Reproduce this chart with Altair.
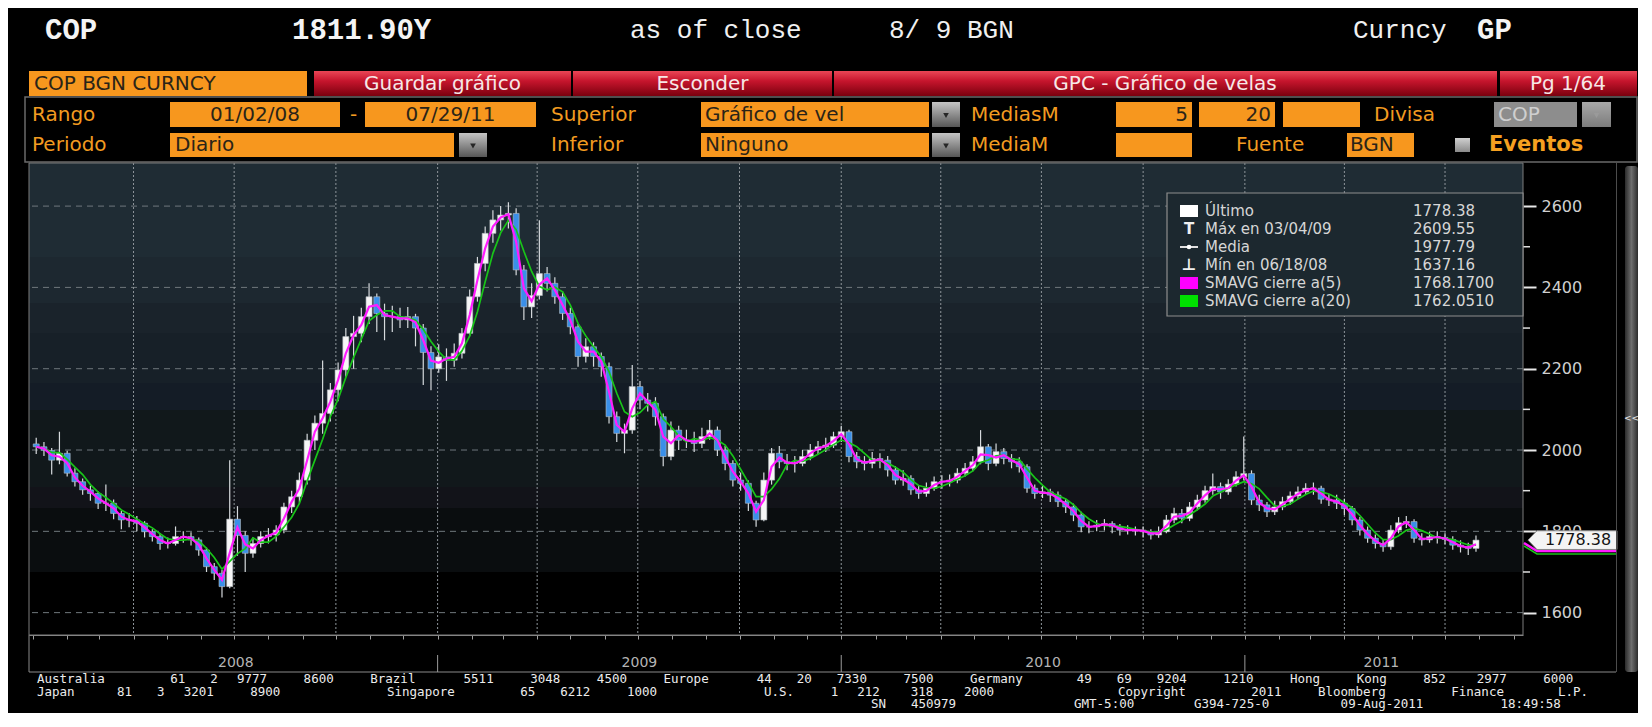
import altair as alt
import pandas as pd

# ---------------- weekly OHLC (USD/COP) ----------------
OPEN_2008 = [2015, 2008, 1999, 1975, 1992, 1943, 1922, 1902, 1893, 1869, 1869, 1844, 1828, 1828, 1820,
             1799, 1787, 1770, 1770, 1787, 1787, 1779, 1754, 1713, 1697, 1664, 1830, 1790, 1746, 1770,
             1787, 1791, 1803, 1860, 1885, 1926, 2024, 2066, 2090, 2148, 2197, 2279, 2287, 2328, 2377,
             2336, 2328, 2328, 2320, 2328, 2300, 2240]
CLOSE_2008 = [2008, 1999, 1975, 1992, 1943, 1922, 1902, 1893, 1869, 1869, 1844, 1828, 1828, 1820, 1799,
              1787, 1770, 1770, 1787, 1787, 1779, 1754, 1713, 1697, 1664, 1830, 1790, 1746, 1770, 1787,
              1791, 1803, 1860, 1885, 1926, 2024, 2066, 2090, 2148, 2197, 2279, 2287, 2328, 2377, 2336,
              2328, 2328, 2320, 2328, 2300, 2240, 2200]
HIGH_2008 = [2030, 2020, 2005, 2045, 1998, 1955, 1930, 1912, 1898, 1915, 1878, 1850, 1845, 1838, 1825,
             1805, 1795, 1785, 1812, 1800, 1798, 1785, 1760, 1722, 1705, 1975, 1862, 1800, 1785, 1800,
             1808, 1815, 1870, 1900, 1945, 2040, 2085, 2220, 2165, 2215, 2300, 2330, 2350, 2410, 2385,
             2360, 2355, 2350, 2352, 2335, 2310, 2255]
LOW_2008 = [1990, 1985, 1940, 1965, 1935, 1910, 1890, 1875, 1855, 1850, 1830, 1805, 1810, 1800, 1785,
            1775, 1755, 1758, 1765, 1772, 1765, 1740, 1700, 1680, 1637.16, 1660, 1740, 1700, 1735, 1760,
            1770, 1775, 1795, 1845, 1870, 1915, 2000, 2040, 2070, 2120, 2180, 2200, 2265, 2310, 2290,
            2270, 2290, 2300, 2300, 2255, 2160, 2147]

OPEN_2009 = [2200, 2229, 2221, 2238, 2287, 2377, 2459, 2533, 2566, 2578, 2582, 2443, 2352, 2380, 2434,
             2410, 2377, 2336, 2303, 2230, 2254, 2230, 2205, 2082, 2041, 2049, 2156, 2123, 2115, 2082,
             1984, 2049, 2024, 2024, 2016, 2033, 2049, 2000, 1967, 1926, 1918, 1869, 1828, 1926, 1992,
             1971, 1967, 1967, 1984, 2000, 2008, 2012]
CLOSE_2009 = [2229, 2221, 2238, 2287, 2377, 2459, 2533, 2566, 2578, 2582, 2443, 2352, 2380, 2434, 2410,
              2377, 2336, 2303, 2230, 2254, 2230, 2205, 2082, 2041, 2049, 2156, 2123, 2115, 2082, 1984,
              2049, 2024, 2024, 2016, 2033, 2049, 2000, 1967, 1926, 1918, 1869, 1828, 1926, 1992, 1971,
              1967, 1967, 1984, 2000, 2008, 2012, 2033]
HIGH_2009 = [2260, 2250, 2262, 2300, 2395, 2475, 2550, 2590, 2600, 2609.55, 2595, 2455, 2410, 2565, 2450,
             2425, 2390, 2350, 2310, 2275, 2265, 2240, 2215, 2095, 2065, 2209, 2170, 2140, 2130, 2090,
             2070, 2060, 2050, 2045, 2055, 2074, 2058, 2010, 1975, 1945, 1925, 1875, 1945, 2005, 2010,
             1990, 1985, 2000, 2015, 2022, 2030, 2045]
LOW_2009 = [2190, 2170, 2205, 2225, 2280, 2365, 2440, 2510, 2540, 2545, 2430, 2320, 2325, 2370, 2390,
            2360, 2320, 2285, 2205, 2215, 2205, 2180, 2065, 2020, 1992, 2040, 2100, 2095, 2060, 1960,
            1975, 2000, 2005, 1995, 2005, 2025, 1985, 1950, 1910, 1900, 1850, 1811, 1825, 1915, 1955,
            1950, 1945, 1960, 1975, 1990, 1995, 2005]

OPEN_2010 = [2033, 2045, 1984, 1971, 1967, 1979, 1975, 1951, 1926, 1930, 1902, 1893, 1906, 1922, 1922,
             1926, 1943, 1955, 1971, 2008, 1967, 1996, 1979, 1971, 1959, 1906, 1893, 1897, 1889, 1873,
             1860, 1840, 1811, 1811, 1815, 1819, 1811, 1803, 1803, 1803, 1799, 1791, 1799, 1828, 1844,
             1832, 1860, 1877, 1900, 1910, 1897, 1916, 1934]
CLOSE_2010 = [2045, 1984, 1971, 1967, 1979, 1975, 1951, 1926, 1930, 1902, 1893, 1906, 1922, 1922, 1926,
              1943, 1955, 1971, 2008, 1967, 1996, 1979, 1971, 1959, 1906, 1893, 1897, 1889, 1873, 1860,
              1840, 1811, 1811, 1815, 1819, 1811, 1803, 1803, 1803, 1799, 1791, 1799, 1828, 1844, 1832,
              1860, 1877, 1900, 1910, 1897, 1916, 1934, 1942]
HIGH_2010 = [2060, 2050, 1995, 1985, 1995, 1992, 1985, 1960, 1950, 1938, 1912, 1920, 1935, 1938, 1940,
             1955, 1968, 1985, 2049, 2015, 2016, 2005, 1990, 1982, 1965, 1915, 1912, 1905, 1898, 1880,
             1868, 1848, 1825, 1828, 1830, 1825, 1818, 1815, 1812, 1812, 1805, 1812, 1840, 1858, 1855,
             1872, 1890, 1912, 1942, 1920, 1928, 1948, 2033]
LOW_2010 = [2020, 1970, 1955, 1950, 1955, 1955, 1935, 1915, 1912, 1890, 1880, 1885, 1900, 1905, 1910,
            1918, 1935, 1948, 1965, 1950, 1960, 1965, 1955, 1945, 1895, 1880, 1882, 1872, 1860, 1845,
            1825, 1798, 1795, 1800, 1802, 1795, 1790, 1792, 1790, 1785, 1780, 1784, 1795, 1820, 1820,
            1825, 1852, 1870, 1890, 1880, 1890, 1910, 1925]

OPEN_2011 = [1942, 1877, 1865, 1848, 1860, 1873, 1887, 1897, 1906, 1906, 1879, 1877, 1869, 1856, 1828,
             1803, 1783, 1770, 1762, 1803, 1821, 1824, 1783, 1779, 1787, 1785, 1780, 1766, 1762, 1758]
CLOSE_2011 = [1877, 1865, 1848, 1860, 1873, 1887, 1897, 1906, 1906, 1879, 1877, 1869, 1856, 1828, 1803,
              1783, 1770, 1762, 1803, 1821, 1824, 1783, 1779, 1787, 1785, 1780, 1766, 1762, 1758, 1778.38]
HIGH_2011 = [1950, 1890, 1872, 1875, 1885, 1898, 1910, 1918, 1920, 1912, 1892, 1890, 1880, 1862, 1835,
             1812, 1792, 1780, 1815, 1835, 1838, 1830, 1795, 1798, 1800, 1795, 1788, 1778, 1772, 1790]
LOW_2011 = [1865, 1850, 1835, 1840, 1852, 1865, 1880, 1890, 1890, 1868, 1862, 1855, 1840, 1815, 1790,
            1772, 1758, 1750, 1755, 1795, 1808, 1772, 1765, 1772, 1770, 1768, 1755, 1748, 1742, 1750]

LAST_PRICE = 1778.38
Y_TICKS = [1600, 1800, 2000, 2200, 2400, 2600]
Y_MINOR = [1700, 1900, 2100, 2300, 2500]
YEARS = [2008, 2009, 2010, 2011]
LEGEND_LABELS = ["Último", "Máx en 03/04/09", "Media", "Mín en 06/18/08",
                 "SMAVG cierre a(5)", "SMAVG cierre a(20)"]
LEGEND_VALUES = ["1778.38", "2609.55", "1977.79", "1637.16", "1768.1700", "1762.0510"]

OPEN = OPEN_2008 + OPEN_2009 + OPEN_2010 + OPEN_2011
CLOSE = CLOSE_2008 + CLOSE_2009 + CLOSE_2010 + CLOSE_2011
HIGH = HIGH_2008 + HIGH_2009 + HIGH_2010 + HIGH_2011
LOW = LOW_2008 + LOW_2009 + LOW_2010 + LOW_2011
dates = pd.date_range("2008-01-04", periods=len(CLOSE), freq="W-FRI")
prices = pd.DataFrame({"date": dates, "open": OPEN, "high": HIGH, "low": LOW, "close": CLOSE})

# ---------------- layout ----------------
W, H = 1494, 472
OX, OY = 29, 163          # page position of the plot's top-left corner
D_START = pd.Timestamp("2008-01-02")
D_END = pd.Timestamp("2011-09-05")


def px(x):
    return x - OX


def py(y):
    return y - OY


XSCALE = alt.Scale(domain=[alt.DateTime(year=2008, month=1, date=2), alt.DateTime(year=2011, month=9, date=5)],
                   nice=False)
XAXIS = alt.Axis(title=None, labels=False, grid=False, domain=True, domainColor="#8c8c8c",
                 tickColor="#a0a0a0", tickSize=4,
                 tickCount=alt.TimeIntervalStep(interval="month", step=1))
YSCALE = alt.Scale(domain=[1545, 2706], nice=False, zero=False)
YAXIS = alt.Axis(title=None, orient="right", values=Y_TICKS, format="d", grid=False, domain=False,
                 tickSize=13, tickWidth=2, tickColor="#e8e8e8", labelPadding=5,
                 labelColor="#d0d0d0", labelFont="DejaVu Sans", labelFontSize=16)


def Xd(f):
    return alt.X(f, type="temporal", scale=XSCALE, axis=XAXIS, title=None)


def Yq(f):
    return alt.Y(f, type="quantitative", scale=YSCALE, axis=YAXIS, title=None)


def rects(rows, **kw):
    d = pd.DataFrame([{"x1": px(a), "y1": py(b), "x2": px(c), "y2": py(e)} for a, b, c, e in rows])
    return alt.Chart(d).mark_rect(**kw).encode(
        x=alt.X("x1:Q", scale=None, axis=None), x2="x2:Q",
        y=alt.Y("y1:Q", scale=None, axis=None), y2="y2:Q")


def fill_rects(rows, **kw):
    d = pd.DataFrame([{"x1": px(a), "y1": py(b), "x2": px(c), "y2": py(e), "c": col}
                      for a, b, c, e, col in rows])
    return alt.Chart(d).mark_rect(**kw).encode(
        x=alt.X("x1:Q", scale=None, axis=None), x2="x2:Q",
        y=alt.Y("y1:Q", scale=None, axis=None), y2="y2:Q",
        fill=alt.Fill("c:N", scale=None))


def texts(rows, color, size, font="DejaVu Sans", weight="normal", align="left"):
    d = pd.DataFrame([{"t": t, "x": px(a), "y": py(b)} for t, a, b in rows])
    return alt.Chart(d).mark_text(color=color, fontSize=size, font=font, fontWeight=weight,
                                  align=align, baseline="middle").encode(
        x=alt.X("x:Q", scale=None, axis=None), y=alt.Y("y:Q", scale=None, axis=None), text="t:N")


def points(rows, **kw):
    d = pd.DataFrame([{"x": px(a), "y": py(b)} for a, b in rows])
    return alt.Chart(d).mark_point(**kw).encode(
        x=alt.X("x:Q", scale=None, axis=None), y=alt.Y("y:Q", scale=None, axis=None))


def polyline(rows, **kw):
    d = pd.DataFrame([{"i": i, "x": px(a), "y": py(b)} for i, (a, b) in enumerate(rows)])
    return alt.Chart(d).mark_line(**kw).encode(
        x=alt.X("x:Q", scale=None, axis=None), y=alt.Y("y:Q", scale=None, axis=None), order="i:Q")


def grad(stops, vertical=True):
    return alt.LinearGradient(gradient="linear", x1=0, y1=0, x2=0 if vertical else 1, y2=1 if vertical else 0,
                              stops=[alt.GradientStop(color=c, offset=o) for o, c in stops])


RED = grad([(0, "#ea4656"), (0.4, "#c6152d"), (1, "#7a000e")])
GRAY = grad([(0, "#c4c4c4"), (1, "#575757")])
GRAY_FADED = grad([(0, "#a8a8a8"), (1, "#7c7c7c")])
SCROLL = grad([(0, "#2c2c2c"), (0.5, "#6e6e6e"), (1, "#2c2c2c")], vertical=False)

ORANGE = "#f7971e"
ORANGE_TXT = "#f29b20"
BOX_TXT = "#2a2418"
L = []

# ---------------- plot background bands ----------------
BANDS = [(163, 257, "#1f2c34"), (257, 303, "#1d2830"), (303, 333, "#1a232b"), (333, 383, "#172028"),
         (383, 410, "#141c26"), (410, 487, "#11181b"), (487, 508, "#121319"), (508, 572, "#0a0d0f"),
         (572, 635, "#000000")]
L.append(fill_rects([(OX, a, OX + W, b, c) for a, b, c in BANDS]))

# ---------------- grid ----------------
L.append(alt.Chart(pd.DataFrame({"v": Y_TICKS})).mark_rule(color="#6f777c", strokeDash=[6, 5], strokeWidth=1)
         .encode(y=Yq("v")))
quarters = pd.DataFrame({"d": pd.date_range("2008-04-01", "2011-07-01", freq="QS")})
L.append(alt.Chart(quarters).mark_rule(color="#8e959a", strokeDash=[2, 2], strokeWidth=1)
         .encode(x=Xd("d")))

# ---------------- candles ----------------
L.append(alt.Chart(prices).mark_rule(color="#d6dadd", strokeWidth=1.2)
         .encode(x=Xd("date"), y=Yq("low"), y2="high:Q"))
L.append(alt.Chart(prices).mark_bar(size=6, stroke="#b9c0c5", strokeWidth=0.6)
         .encode(x=Xd("date"), y=Yq("open"), y2="close:Q",
                 color=alt.when("datum.close < datum.open").then(alt.value("#3a8fe8"))
                 .otherwise(alt.value("#f6f6f6"))))

# ---------------- moving averages ----------------
L.append(alt.Chart(prices).transform_window(sma20="mean(close)", frame=[-3, 0], sort=[alt.SortField("date")])
         .mark_line(color="#19c419", strokeWidth=1.7).encode(x=Xd("date"), y=Yq("sma20")))
L.append(alt.Chart(prices).transform_window(sma5="mean(close)", frame=[-1, 0], sort=[alt.SortField("date")])
         .mark_line(color="#ff1cff", strokeWidth=2.2).encode(x=Xd("date"), y=Yq("sma5")))

# plot border
L.append(rects([(OX, OY, OX + W, OY + H)], fill="transparent", stroke="#7c7c7c", strokeWidth=1))

# minor ticks on the right axis
L.append(alt.Chart(pd.DataFrame({"v": Y_MINOR})).mark_rule(color="#e0e0e0", strokeWidth=1.5)
         .encode(y=Yq("v"), x=alt.value(W), x2=alt.value(W + 7)))

# ---------------- legend box ----------------
L.append(rects([(1167, 193, 1523, 316)], fill="#1c282f", stroke="#8e8e8e", strokeWidth=1.2))
L.append(fill_rects([(1180, 205, 1198, 217, "#ffffff"), (1180, 277, 1198, 289, "#ff00ff"),
                     (1180, 295, 1198, 307, "#00e000"), (1180, 246, 1198, 248, "#e0e0e0")]))
L.append(points([(1189, 247)], shape="circle", filled=True, color="#ffffff", size=22, opacity=1))
L.append(texts([("T", 1189, 229)], "#f0f0f0", 15, weight="bold", align="center"))
L.append(texts([("⊥", 1189, 265)], "#f0f0f0", 16, weight="bold", align="center"))
ys = [211, 229, 247, 265, 283, 301]
L.append(texts([(t, 1205, y) for t, y in zip(LEGEND_LABELS, ys)], "#d6d6d6", 15))
L.append(texts([(t, 1413, y) for t, y in zip(LEGEND_VALUES, ys)], "#d6d6d6", 15))

# ---------------- last price tag ----------------
L.append(polyline([(1524, 543), (1537, 551), (1617, 551)], color="#ff1cff", strokeWidth=2.5))
L.append(polyline([(1524, 546), (1537, 554), (1617, 554)], color="#19c419", strokeWidth=1.5))
tag = pd.DataFrame({"v": [LAST_PRICE], "t": [f"{LAST_PRICE:.2f}"]})
L.append(alt.Chart(tag).mark_point(shape="M -1 0 L -0.8 -0.21 L 1 -0.21 L 1 0.21 L -0.8 0.21 Z",
                                   size=7921, filled=True, fill="#f4f4f4", stroke="#8a8a8a",
                                   strokeWidth=1, opacity=1)
         .encode(x=alt.value(px(1572.5)), y=Yq("v")))
L.append(alt.Chart(tag).mark_text(color="#141414", fontSize=16, font="DejaVu Sans", align="center",
                                  baseline="middle")
         .encode(x=alt.value(px(1578)), y=Yq("v"), text="t:N"))

# ---------------- below the plot: year band ----------------
L.append(fill_rects([(OX - 0.5, 635, OX + 0.5, 672, "#8a8a8a"), (OX, 671.5, 1616, 672.5, "#8a8a8a"),
                     (1616, 163, 1617, 672, "#4c4c4c")]))
seps = pd.DataFrame({"d": [pd.Timestamp(f"{y}-01-01") for y in YEARS[1:]]})
L.append(alt.Chart(seps).mark_rule(color="#9a9a9a", strokeWidth=1)
         .encode(x=Xd("d"), y=alt.value(py(655)), y2=alt.value(py(672))))
mids = []
for y in YEARS:
    a = max(pd.Timestamp(f"{y}-01-01"), D_START)
    b = min(pd.Timestamp(f"{y + 1}-01-01"), D_END)
    mids.append(a + (b - a) / 2)
ylab = pd.DataFrame({"d": mids, "t": [str(y) for y in YEARS]})
L.append(alt.Chart(ylab).mark_text(color="#b4b4b4", fontSize=14, font="DejaVu Sans", align="center",
                                   baseline="middle")
         .encode(x=Xd("d"), y=alt.value(py(663)), text="t:N"))

# ---------------- header ----------------
L.append(texts([("COP", 45, 30), ("1811.90Y", 292, 30), ("GP", 1477, 30)], "#f4f4f4", 29,
               font="Liberation Mono", weight="bold"))
L.append(texts([("as of close", 630, 30), ("8/ 9 BGN", 889, 30), ("Curncy", 1353, 30)], "#f0f0f0", 26,
               font="Liberation Mono"))

# tab row
L.append(fill_rects([(29, 71, 307, 96, ORANGE)]))
L.append(rects([(314, 71, 571, 96), (573, 71, 832, 96), (834, 71, 1497, 96), (1500, 71, 1637, 96)], fill=RED))
L.append(texts([("COP BGN CURNCY", 34, 84)], BOX_TXT, 20))
L.append(texts([("Guardar gráfico", 442.5, 84), ("Esconder", 702.5, 84),
                ("GPC - Gráfico de velas", 1165, 84), ("Pg 1/64", 1568, 84)], "#f7e7e7", 20, align="center"))

# settings panel
L.append(rects([(25, 97, 1637, 162)], fill="transparent", stroke="#6a6a6a", strokeWidth=1.5))
R1, R2 = 114.5, 145
r1 = (102, 127)
r2 = (133, 157)
L.append(fill_rects([(a, r1[0], b, r1[1], ORANGE) for a, b in
                     [(170, 340), (365, 536), (701, 929), (1116, 1192), (1199, 1275), (1283, 1360)]] +
                    [(a, r2[0], b, r2[1], ORANGE) for a, b in
                     [(170, 454), (701, 929), (1116, 1192), (1347, 1414)]] +
                    [(1494, r1[0], 1577, r1[1], "#8d8d8d")]))
L.append(rects([(932, r1[0], 960, r1[1]), (459, r2[0], 487, r2[1]), (932, r2[0], 960, r2[1])], fill=GRAY))
L.append(rects([(1582, r1[0], 1611, r1[1])], fill=GRAY_FADED))
L.append(points([(946, R1 + 1), (473, R2 + 1), (946, R2 + 1)], shape="triangle-down", filled=True,
                color="#262626", size=32, opacity=1))
L.append(points([(1596.5, R1 + 1)], shape="triangle-down", filled=True, color="#9a9a9a", size=32, opacity=1))
L.append(rects([(1455, 138, 1470, 152)], fill=grad([(0, "#d0d0d0"), (1, "#8a8a8a")])))
L.append(texts([("Rango", 32, R1), ("-", 350, R1), ("Superior", 551, R1), ("MediasM", 971, R1),
                ("Divisa", 1374, R1), ("Periodo", 32, R2), ("Inferior", 551, R2), ("MediaM", 971, R2),
                ("Fuente", 1236, R2)], ORANGE_TXT, 20))
L.append(texts([("Eventos", 1489, R2)], "#f5a020", 21, weight="bold"))
L.append(texts([("01/02/08", 255, R1), ("07/29/11", 450.5, R1)], BOX_TXT, 20, align="center"))
L.append(texts([("Gráfico de vel", 705, R1), ("Diario", 175, R2), ("Ninguno", 705, R2), ("BGN", 1350, R2)],
               BOX_TXT, 20))
L.append(texts([("5", 1188, R1), ("20", 1271, R1)], BOX_TXT, 20, align="right"))
L.append(texts([("COP", 1498, R1)], "#cfcfcf", 20))

# scrollbar
L.append(rects([(1625, 166, 1638, 672)], fill=SCROLL, cornerRadius=3))
L.append(texts([("<<", 1631.5, 418)], "#d8d8d8", 9, align="center", weight="bold"))

# ---------------- footer ----------------
FOOTER = [
    ("Australia 61 2 9777 8600 Brazil 5511 3048 4500 Europe 44 20 7330 7500 Germany 49 69 9204 1210 "
     "Hong Kong 852 2977 6000", 37, 679),
    ("Japan 81 3 3201 8900", 37, 691.5),
    ("Singapore 65 6212 1000", 387, 691.5),
    ("U.S. 1 212 318 2000", 764, 691.5),
    ("Copyright 2011 Bloomberg Finance L.P.", 1118, 691.5),
    ("SN 450979", 871, 703.5),
    ("GMT-5:00 G394-725-0 09-Aug-2011 18:49:58", 1074, 703.5),
]
PITCH = 13.33
foot_rows = []
for seg, x0, y0 in FOOTER:
    col = 0
    for w in seg.split(" "):
        foot_rows.append((w, x0 + col * PITCH, y0))
        col += len(w) + 1
L.append(texts(foot_rows, "#ececec", 12.5, font="DejaVu Sans Mono"))

chart = (alt.layer(*L)
         .properties(width=W, height=H,
                     padding={"left": 21, "top": 155, "right": 115, "bottom": 78},
                     autosize=alt.AutoSizeParams(type="none"))
         .configure(background="#000000")
         .configure_view(stroke="transparent"))

chart.save("out.html", embed_options={"renderer": "svg", "actions": False})
